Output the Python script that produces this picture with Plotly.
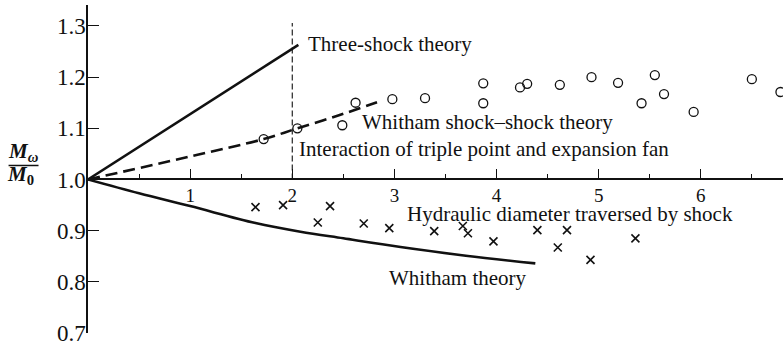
import plotly.graph_objects as go

# Mach number ratio M_w / M_0 against hydraulic diameters traversed by the shock
circles_x = [1.72, 2.05, 2.49, 2.62, 2.98, 3.30, 3.87, 3.87, 4.23, 4.30, 4.62,
             4.93, 5.19, 5.55, 5.42, 5.64, 5.93, 6.50, 6.78]
circles_y = [1.079, 1.100, 1.106, 1.150, 1.157, 1.159, 1.188, 1.149, 1.180, 1.187, 1.185,
             1.200, 1.189, 1.204, 1.149, 1.167, 1.132, 1.196, 1.171]

crosses_x = [1.64, 1.91, 2.37, 2.25, 2.70, 2.95, 3.39, 3.67, 3.72, 3.97, 4.40,
             4.69, 4.60, 4.92, 5.36]
crosses_y = [0.946, 0.950, 0.948, 0.916, 0.914, 0.905, 0.899, 0.909, 0.895, 0.879, 0.901,
             0.901, 0.867, 0.843, 0.885]

three_shock_x = [0.0, 2.06]
three_shock_y = [1.0, 1.263]

shock_shock_x = [0.0, 1.0, 1.72, 2.05, 2.45, 2.83]
shock_shock_y = [1.0, 1.045, 1.079, 1.100, 1.125, 1.151]

whitham_x = [0.0, 0.5, 1.0, 1.64, 2.08, 2.5, 3.06, 3.7, 4.38]
whitham_y = [1.0, 0.973, 0.948, 0.915, 0.898, 0.885, 0.868, 0.851, 0.836]

# triple point / expansion fan interaction marker
interaction_x = 2.0
interaction_y = [1.0, 1.306]

x_ticks = [1, 2, 3, 4, 5, 6]
x_minor = [0.5, 1.5, 2.5, 3.5, 4.5, 5.5, 6.5]
y_ticks = [0.7, 0.8, 0.9, 1.0, 1.1, 1.2, 1.3]
y_tick_text = ["0.7", "0.8", "0.9", "1.0", "1.1", "1.2", "1.3"]

X_RANGE = [0, 6.805]
Y_RANGE = [0.7, 1.341]
SERIF = "Liberation Serif"
INK = "#111111"

fig = go.Figure()

fig.add_trace(go.Scatter(x=three_shock_x, y=three_shock_y, mode="lines",
                         line=dict(color=INK, width=2.6)))
fig.add_trace(go.Scatter(x=shock_shock_x, y=shock_shock_y, mode="lines",
                         line=dict(color=INK, width=2.6, dash="12px,6px", shape="spline")))
fig.add_trace(go.Scatter(x=whitham_x, y=whitham_y, mode="lines",
                         line=dict(color=INK, width=2.6, shape="spline")))
fig.add_trace(go.Scatter(x=[interaction_x, interaction_x], y=interaction_y, mode="lines",
                         line=dict(color=INK, width=1.1, dash="6px,3px")))
fig.add_trace(go.Scatter(x=circles_x, y=circles_y, mode="markers",
                         marker=dict(symbol="circle-open", size=9, color=INK,
                                     line=dict(width=1.3, color=INK))))
fig.add_trace(go.Scatter(x=crosses_x, y=crosses_y, mode="markers",
                         marker=dict(symbol="x-thin", size=8, color=INK,
                                     line=dict(width=1.6, color=INK))))

label_font = dict(family=SERIF, size=21, color=INK)
labels = [
    ("Three-shock theory", 2.14, 1.265),
    ("Whitham shock\u2013shock theory", 2.67, 1.112),
    ("Interaction of triple point and expansion fan", 2.06, 1.060),
    ("Hydraulic diameter traversed by shock", 3.11, 0.932),
    ("Whitham theory", 2.94, 0.808),
]
for text, lx, ly in labels:
    fig.add_annotation(x=lx, y=ly, text=text, showarrow=False, xanchor="left",
                       yanchor="middle", font=label_font, borderpad=0)

# y-axis title drawn as a stacked fraction M_w / M_0 (paper coordinates, left of the axis)
frac_font = dict(family=SERIF, size=21, color=INK)
fig.add_annotation(xref="paper", yref="paper", x=-0.0935, y=0.553,
                   text="<b><i>M</i></b><sub><b><i>\u03c9</i></b></sub>",
                   showarrow=False, xanchor="center", yanchor="middle", font=frac_font)
fig.add_annotation(xref="paper", yref="paper", x=-0.097, y=0.482,
                   text="<b><i>M</i></b><sub><b>0</b></sub>",
                   showarrow=False, xanchor="center", yanchor="middle", font=frac_font)
fig.add_shape(type="line", xref="paper", yref="paper", x0=-0.1143, x1=-0.0712,
              y0=0.5107, y1=0.5107, line=dict(color=INK, width=1.5))

x_pos = (1.0 - Y_RANGE[0]) / (Y_RANGE[1] - Y_RANGE[0])

fig.update_layout(
    width=783, height=347,
    margin=dict(l=88, r=0, t=5, b=14),
    paper_bgcolor="white", plot_bgcolor="white",
    showlegend=False,
    font=dict(family=SERIF, color=INK),
    xaxis=dict(range=X_RANGE, showgrid=False, zeroline=False,
               showline=True, linecolor=INK, linewidth=1.5,
               anchor="free", position=x_pos,
               ticks="inside", ticklen=10, tickwidth=1.2, tickcolor=INK,
               tickvals=x_ticks, ticktext=[str(v) for v in x_ticks],
               tickfont=dict(family=SERIF, size=19, color=INK),
               ticklabelstandoff=-1,
               minor=dict(tickvals=x_minor, ticks="inside", ticklen=5,
                          tickwidth=1.2, tickcolor=INK)),
    yaxis=dict(range=Y_RANGE, showgrid=False, zeroline=False,
               showline=True, linecolor=INK, linewidth=1.5,
               ticks="inside", ticklen=11, tickwidth=1.2, tickcolor=INK,
               tickvals=y_ticks, ticktext=y_tick_text,
               tickfont=dict(family=SERIF, size=23, color=INK),
               ticklabelstandoff=-4),
)

fig.write_html("out.html")
